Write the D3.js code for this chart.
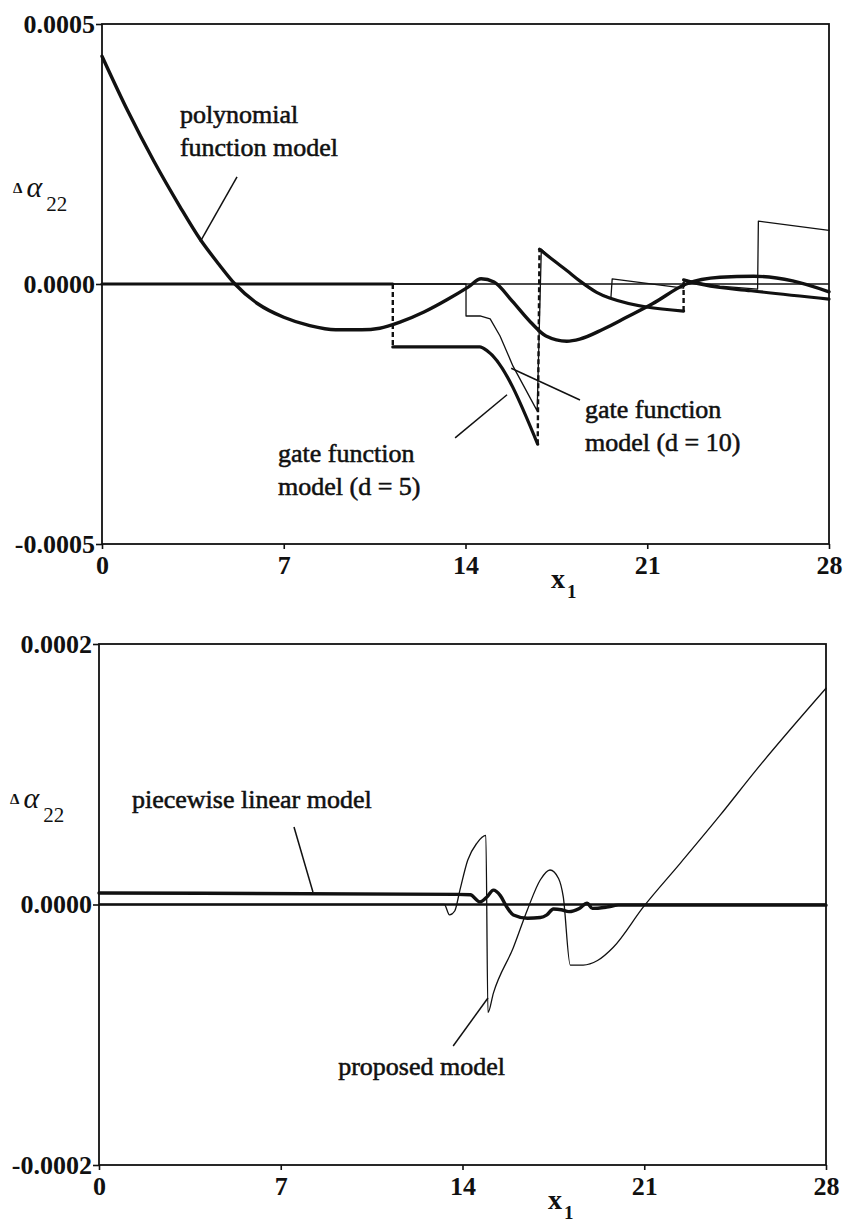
<!DOCTYPE html>
<html>
<head>
<meta charset="utf-8">
<script src="https://cdn.jsdelivr.net/npm/d3@7"></script>
<style>
  body { margin: 0; background: #fff; }
  svg { display: block; }
  text { font-family: "Liberation Serif", "Times New Roman", serif; fill: #111; }
</style>
</head>
<body>
<svg id="chart" width="846" height="1224"></svg>
<script>
// Values (x1 from 0 to 28)

var xTicks = [0, 7, 14, 21, 28];

var topTickVals = [0.0005, 0, -0.0005];
var topTickText = ["0.0005", "0.0000", "-0.0005"];
var botTickVals = [0.0002, 0, -0.0002];
var botTickText = ["0.0002", "0.0000", "-0.0002"];

// top panel: polynomial function model (thick, smooth)
var polyX = [0, 1, 2, 3, 3.78, 4.5, 5.12, 6, 7, 8, 9, 10, 10.7, 11.5, 12.4, 13.3, 14.1, 14.6, 15.1, 15.8, 16.5, 17.1, 17.9, 18.4, 19.3, 20.2, 21.2, 22.5, 23.8, 25.1, 26.6, 28];
var polyY = [0.000438, 0.000332, 0.000236, 0.000149, 0.000086, 0.000038, 0, -0.000038, -0.000064, -0.00008, -0.000088, -0.000088, -0.000085, -0.000073, -0.000054, -0.00003, -0.000006, 0.00001, 0.000004, -0.000033, -0.000073, -0.0001, -0.00011, -0.000106, -0.000087, -0.000064, -0.000038, 0, 0.000013, 0.000015, 0.000006, -0.000015];

// top panel: gate function model d = 5 (thick, NaN = jump drawn dashed)
var gate5X = [0, 11.2, NaN, 11.2, 14.55, 14.85, 16.78, NaN, 16.85, 17.4, 17.9, 18.4, 19.05, 19.55, 22.4, NaN, 22.4, 23.2, 25, 28];
var gate5Y = [0, 0, NaN, -0.000121, -0.000121, -0.000129, -0.000308, NaN, 0.000067, 0.000045, 0.000026, 0.000006, -0.000016, -0.000027, -0.000052, NaN, 0.000008, -0.000002, -0.000013, -0.000029];

// top panel: gate function model d = 10 (thin, steps kept as vertical pieces)
var gate10X = [0, 14.02, 14.02, 14.56, 14.95, 15.33, 15.83, 16.76, 16.92, 17.4, 17.9, 18.4, 19.05, 19.6, 19.65, 22.4, 22.42, 23.8, 25.25, 25.28, 28];
var gate10Y = [0, 0, -0.0000615, -0.0000615, -0.000067, -0.0001, -0.000158, -0.000244, 0.000067, 0.000045, 0.000026, 0.000006, -0.000016, -0.000027, 0.00001, -0.000008, 0.000008, -0.000004, -0.00001, 0.000121, 0.000103];

// bottom panel: piecewise linear model (thick)
var pwX = [0, 13.8, 14.3, 14.67, 14.95, 15.19, 15.45, 15.7, 15.96, 16.5, 17.0, 17.25, 17.5, 17.8, 18.1, 18.5, 18.8, 19.0, 19.55, 20, 28];
var pwY = [0.0000088, 0.0000078, 0.0000075, 0.000002, 0.000006, 0.000011, 0.000007, -0.0000017, -0.000008, -0.0000105, -0.00001, -0.000008, -0.0000035, -0.000004, -0.0000055, -0.000003, 0.000001, -0.000003, -0.000002, -0.0000005, -0.0000005];

// bottom panel: proposed model (thin)
var propX = [0, 13.3, 13.5, 13.7, 13.9, 14.2, 14.55, 14.9, 14.98, 15.19, 15.96, 16.5, 17.0, 17.37, 17.7, 17.88, 18.15, 18.65, 19.2, 19.8, 20.96, 22.4, 23.9, 25.3, 28];
var propY = [0, 0, -0.000008, -0.000005, 0.000011, 0.000034, 0.000047, 0.000053, -0.000083, -0.000068, -0.000033, -0.000004, 0.000019, 0.0000265, 0.00002, 0.000006, -0.0000465, -0.0000465, -0.000043, -0.000033, -0.000002, 0.000032, 0.000068, 0.000103, 0.000166];

var svg = d3.select("#chart");

function pts(xs, ys) {
    return xs.map(function (x, i) { return { x: x, y: ys[i] }; });
}

// Draw frame, ticks and labels for one panel
function drawPanel(cfg) {
    var x = d3.scaleLinear().domain([0, 28]).range([cfg.left, cfg.right]);
    var y = d3.scaleLinear().domain([cfg.yTicks[2], cfg.yTicks[0]]).range([cfg.bottom, cfg.top]);

    var g = svg.append("g");

    var yAxis = d3.axisLeft(y)
        .tickValues(cfg.yTicks)
        .tickFormat(function (d, i) { return cfg.yText[i]; })
        .tickSize(6).tickPadding(1).tickSizeOuter(0);
    var ya = g.append("g").attr("transform", "translate(" + cfg.left + ",0)").call(yAxis);

    var xAxis = d3.axisBottom(x)
        .tickValues(xTicks)
        .tickSize(5).tickPadding(7).tickSizeOuter(0);
    var xa = g.append("g").attr("transform", "translate(0," + cfg.bottom + ")").call(xAxis);

    [ya, xa].forEach(function (a) {
        a.select(".domain").remove();
        a.selectAll(".tick line").attr("stroke", "#111").attr("stroke-width", 1.6);
        a.selectAll(".tick text")
            .style("font-family", "'Liberation Serif', serif")
            .style("font-weight", "bold")
            .style("font-size", "26px")
            .attr("fill", "#111");
    });

    // box
    g.append("rect")
        .attr("x", cfg.left).attr("y", cfg.top)
        .attr("width", cfg.right - cfg.left).attr("height", cfg.bottom - cfg.top)
        .attr("fill", "none").attr("stroke", "#111").attr("stroke-width", 1.8);

    // zero reference line
    g.append("line")
        .attr("x1", x(0)).attr("x2", x(28))
        .attr("y1", y(0)).attr("y2", y(0))
        .attr("stroke", "#111").attr("stroke-width", cfg.zeroWidth);

    // y label: delta alpha 22
    var yl = g.append("text").attr("x", cfg.left - 89).attr("y", cfg.labelY);
    yl.append("tspan").text("Δ").style("font-size", "15px").style("font-weight", "bold").attr("dy", -4);
    yl.append("tspan").text("α").style("font-size", "30px").style("font-style", "italic").attr("dx", 4).attr("dy", 4);
    yl.append("tspan").text("22").style("font-size", "21px").attr("dx", 4).attr("dy", 14);

    // x label: x1
    var xl = g.append("text").attr("x", cfg.left + 449).attr("y", cfg.bottom + 44)
        .style("font-weight", "bold");
    xl.append("tspan").text("x").style("font-size", "28px");
    xl.append("tspan").text("1").style("font-size", "19px").attr("dx", 2).attr("dy", 10);

    return { g: g, x: x, y: y };
}

function addLine(p, data, width, curve) {
    var line = d3.line()
        .defined(function (d) { return !isNaN(d.x); })
        .x(function (d) { return p.x(d.x); })
        .y(function (d) { return p.y(d.y); })
        .curve(curve || d3.curveLinear);
    p.g.append("path")
        .datum(data)
        .attr("d", line)
        .attr("fill", "none")
        .attr("stroke", "#111")
        .attr("stroke-width", width)
        .attr("stroke-linejoin", "round")
        .attr("stroke-linecap", "round");
}

// dashed verticals where a gate segment jumps to the next one
function addJumps(p, data) {
    data.forEach(function (d, i) {
        if (isNaN(d.x)) {
            var a = data[i - 1], b = data[i + 1];
            p.g.append("line")
                .attr("x1", p.x(a.x)).attr("y1", p.y(a.y))
                .attr("x2", p.x(b.x)).attr("y2", p.y(b.y))
                .attr("stroke", "#111").attr("stroke-width", 2.4)
                .attr("stroke-dasharray", "5,3");
        }
    });
}

function addNote(p, lines, tx, ty, from, to) {
    var t = p.g.append("text")
        .attr("x", p.x(tx)).attr("y", p.y(ty))
        .style("font-size", "26px")
        .attr("stroke", "#111").attr("stroke-width", 0.55);
    lines.forEach(function (s, i) {
        t.append("tspan").attr("x", p.x(tx)).attr("dy", i === 0 ? 0 : 33).text(s);
    });
    p.g.append("line")
        .attr("x1", p.x(from[0])).attr("y1", p.y(from[1]))
        .attr("x2", p.x(to[0])).attr("y2", p.y(to[1]))
        .attr("stroke", "#111").attr("stroke-width", 1.5);
}

// Top panel
var topPanel = drawPanel({
    left: 102, right: 829, top: 24, bottom: 544,
    yTicks: topTickVals, yText: topTickText,
    zeroWidth: 1.4, labelY: 197
});

addLine(topPanel, pts(gate10X, gate10Y), 1.3);
var g5 = pts(gate5X, gate5Y);
addJumps(topPanel, g5);
addLine(topPanel, g5, 3.2, d3.curveMonotoneX);
addLine(topPanel, pts(polyX, polyY), 3.4, d3.curveMonotoneX);

addNote(topPanel, ["polynomial", "function model"], 3.0, 0.00031, [5.2, 0.000206], [3.78, 0.0000808]);
addNote(topPanel, ["gate function", "model (d = 5)"], 6.78, -0.000342, [13.6, -0.000296], [15.6, -0.000213]);
addNote(topPanel, ["gate function", "model (d = 10)"], 18.6, -0.000258, [18.41, -0.000223], [15.76, -0.000162]);

// Bottom panel
var botPanel = drawPanel({
    left: 99, right: 826, top: 644, bottom: 1165,
    yTicks: botTickVals, yText: botTickText,
    zeroWidth: 2.6, labelY: 808
});

addLine(botPanel, pts(propX, propY), 1.3, d3.curveMonotoneX);
addLine(botPanel, pts(pwX, pwY), 3.4, d3.curveMonotoneX);

addNote(botPanel, ["piecewise linear model"], 1.27, 0.0000741, [7.51, 0.0000595], [8.24, 0.0000096]);
addNote(botPanel, ["proposed model"], 9.21, -0.000131, [13.64, -0.0001086], [14.98, -0.0000718]);
</script>
</body>
</html>
